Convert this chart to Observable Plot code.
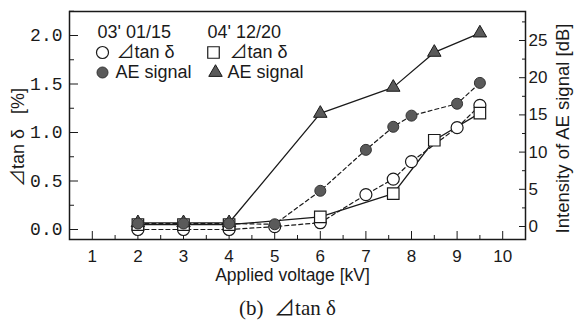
<!DOCTYPE html>
<html><head><meta charset="utf-8">
<script src="https://cdn.jsdelivr.net/npm/d3@7"></script>
<script src="https://cdn.jsdelivr.net/npm/@observablehq/plot@0.6"></script>
<style>body{margin:0;background:#fff} svg{display:block}</style>
</head><body><div id="chart"></div>
<script>
// ---- data ----
const volt03 = [2, 3, 4, 5, 6, 7, 7.6, 8, 9, 9.5];
const tan03 = [0.0, 0.0, 0.0, 0.03, 0.07, 0.36, 0.52, 0.70, 1.05, 1.28];
const ae03 = [0.4, 0.4, 0.4, 0.3, 4.8, 10.3, 13.4, 14.9, 16.5, 19.3];
const volt04 = [2, 3, 4, 6, 7.6, 8.5, 9.5];
const tan04 = [0.05, 0.05, 0.05, 0.13, 0.37, 0.92, 1.20];
const ae04 = [0.5, 0.5, 0.5, 15.2, 18.7, 23.4, 26.0];
const xTicks = [1, 2, 3, 4, 5, 6, 7, 8, 9, 10];
const xMinor = [0.5, 1.5, 2.5, 3.5, 4.5, 5.5, 6.5, 7.5, 8.5, 9.5, 10.5];
const leftTicks = [0, 0.5, 1.0, 1.5, 2.0];
const leftMinor = [0.25, 0.75, 1.25, 1.75, 2.25];
const rightTicks = [0, 5, 10, 15, 20, 25];
const rightMinor = [2.5, 7.5, 12.5, 17.5, 22.5, 27.5];
const legendDates = ["03' 01/15", "04' 12/20"];
const legendLabels = ["⊿tan δ", "AE signal"];

// right axis (dB) expressed in left-axis units (%)
const dbA = 3 / 97, dbB = 186 / 97 / 25;
const toPct = d => dbA + dbB * d;
const fromPct = p => (p - dbA) / dbB;

const d03 = volt03.map((v, i) => ({v, tan: tan03[i], ae: toPct(ae03[i])}));
const d04 = volt04.map((v, i) => ({v, tan: tan04[i], ae: toPct(ae04[i])}));

const ink = "#1a1a1a";
const gray = "#5a5a5a";
const sans = "Liberation Sans, 'Noto Sans CJK JP', Arial, sans-serif";
const mid = {textAnchor: "middle", lineAnchor: "middle", fill: ink};
const leg = {frameAnchor: "top-left", textAnchor: "start", lineAnchor: "middle", fontSize: 18, fill: ink};

const chart = Plot.plot({
  width: 574, height: 322,
  marginLeft: 69, marginRight: 49, marginTop: 11, marginBottom: 83,
  style: {fontFamily: sans, fontSize: "17px", color: ink, background: "#fff"},
  x: {domain: [0.5, 10.5]},
  y: {domain: [-10 / 97, 218 / 97]},
  marks: [
    Plot.frame({stroke: ink, strokeWidth: 1.5}),
    // x axis
    Plot.axisX({ticks: xTicks, tickSize: -8, tickPadding: 18, tickFormat: d => d, label: null, fontSize: 17, stroke: ink}),
    Plot.axisX({ticks: xMinor, tickSize: -4, text: null, label: null, stroke: ink}),
    // left axis
    Plot.axisY({ticks: leftTicks, tickSize: -9, tickPadding: 16, tickFormat: d => d.toFixed(1), label: null,
      fontFamily: "Liberation Mono, DejaVu Sans Mono, monospace", fontSize: 18, stroke: ink}),
    Plot.axisY({ticks: leftMinor, tickSize: -5, text: null, label: null, stroke: ink}),
    // right axis (dB)
    Plot.axisY(rightTicks.map(toPct), {anchor: "right", tickSize: -7, tickPadding: 10,
      tickFormat: p => Math.round(fromPct(p)), label: null, fontSize: 17, stroke: ink}),
    Plot.axisY(rightMinor.map(toPct), {anchor: "right", tickSize: -4, text: null, label: null, stroke: ink}),
    // axis titles
    Plot.text(["⊿tan δ   [%]"], {...mid, frameAnchor: "left", dx: -51, dy: 12, rotate: -90, fontSize: 18}),
    Plot.text(["Intensity of AE signal [dB]"], {...mid, frameAnchor: "right", dx: 38, dy: 3, rotate: -90, fontSize: 18.5}),
    Plot.text(["Applied voltage [kV]"], {...mid, frameAnchor: "bottom", dy: 36, dx: -5, fontSize: 17.5}),
    Plot.text(["(b)  ⊿tan δ"], {...mid, frameAnchor: "bottom", dy: 69, dx: -10, fontSize: 21,
      fontFamily: "Liberation Serif, 'Noto Sans CJK JP', serif"}),
    // lines
    Plot.line(d03, {x: "v", y: "tan", stroke: ink, strokeWidth: 1.2, strokeDasharray: "4,3"}),
    Plot.line(d03, {x: "v", y: "ae", stroke: ink, strokeWidth: 1.2, strokeDasharray: "4,3"}),
    Plot.line(d04, {x: "v", y: "tan", stroke: ink, strokeWidth: 1.3}),
    Plot.line(d04, {x: "v", y: "ae", stroke: ink, strokeWidth: 1.3}),
    // markers
    Plot.dot(d03, {x: "v", y: "tan", r: 6, fill: "white", stroke: ink, strokeWidth: 1.2}),
    Plot.dot(d04, {x: "v", y: "tan", r: 6.5, symbol: "square", fill: "white", stroke: ink, strokeWidth: 1.2}),
    Plot.dot(d04, {x: "v", y: "ae", r: 5, symbol: "triangle", fill: gray, stroke: ink, strokeWidth: 1}),
    Plot.dot(d03, {x: "v", y: "ae", r: 5.5, fill: gray, stroke: "#333", strokeWidth: 1}),
    // legend
    Plot.text([legendDates[0]], {...leg, dx: 28, dy: 21}),
    Plot.text([legendDates[1]], {...leg, dx: 138, dy: 21}),
    Plot.dot([0], {frameAnchor: "top-left", dx: 33, dy: 41, r: 6, fill: "white", stroke: ink, strokeWidth: 1.2}),
    Plot.text([legendLabels[0]], {...leg, dx: 47, dy: 41}),
    Plot.dot([0], {frameAnchor: "top-left", dx: 144, dy: 41, r: 6.5, symbol: "square", fill: "white", stroke: ink, strokeWidth: 1.2}),
    Plot.text([legendLabels[0]], {...leg, dx: 160, dy: 41}),
    Plot.dot([0], {frameAnchor: "top-left", dx: 33, dy: 61, r: 5.5, fill: gray, stroke: "#333", strokeWidth: 1}),
    Plot.text([legendLabels[1]], {...leg, dx: 46, dy: 61}),
    Plot.dot([0], {frameAnchor: "top-left", dx: 146, dy: 61, r: 5, symbol: "triangle", fill: gray, stroke: ink, strokeWidth: 1}),
    Plot.text([legendLabels[1]], {...leg, dx: 158, dy: 61})
  ]
});
document.getElementById("chart").append(chart);
</script>
</body></html>
